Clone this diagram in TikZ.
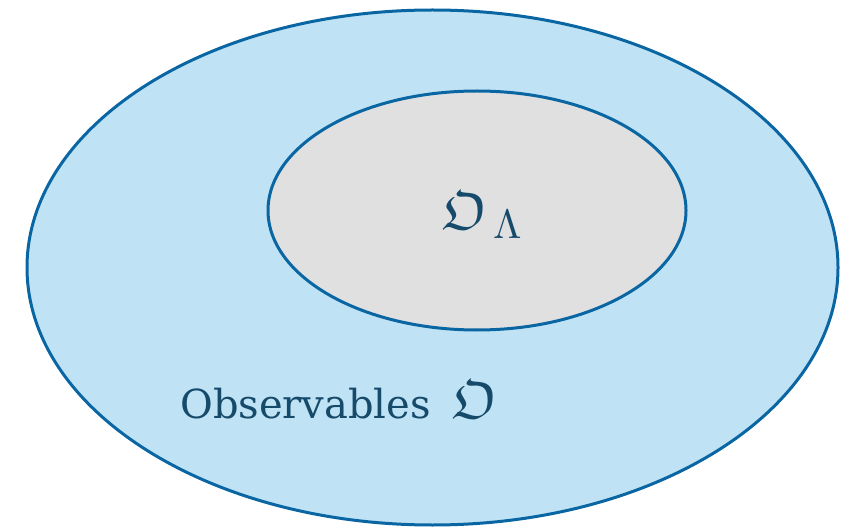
\documentclass[tikz,border=0pt]{standalone}
\usepackage{amssymb}
\usepackage{fontspec}
\setmainfont{DejaVu Serif}
\definecolor{outerfill}{HTML}{BFE3F5}
\definecolor{edge}{HTML}{0A66A3}
\definecolor{innerfill}{HTML}{E0E0E0}
\definecolor{txt}{HTML}{164A6B}
\newcommand\myfrakO{\resizebox{45pt}{!}{$\mathfrak{O}$}}
\newcommand\myLam{\resizebox{!}{28pt}{$\Lambda$}}
\begin{document}
\begin{tikzpicture}[x=1pt,y=-1pt,
  region/.style={draw=edge,line width=3pt},
  lbl/.style={text=txt,inner sep=0pt}]
\useasboundingbox (0,0) rectangle (851,529);
\draw[region,fill=outerfill] (432.5,267.5) ellipse [x radius=405.5,y radius=257.5];
\draw[region,fill=innerfill] (477,210.5) ellipse [x radius=209,y radius=119.5];
\node[lbl,anchor=base west,font=\fontsize{40}{46}\selectfont] (obs) at (180,418) {Observables\hspace{22pt}\myfrakO};
\node[lbl,anchor=base west] (sub) at (442,230) {\myfrakO\hspace{6pt}\raisebox{-9pt}{\myLam}};
\end{tikzpicture}
\end{document}
